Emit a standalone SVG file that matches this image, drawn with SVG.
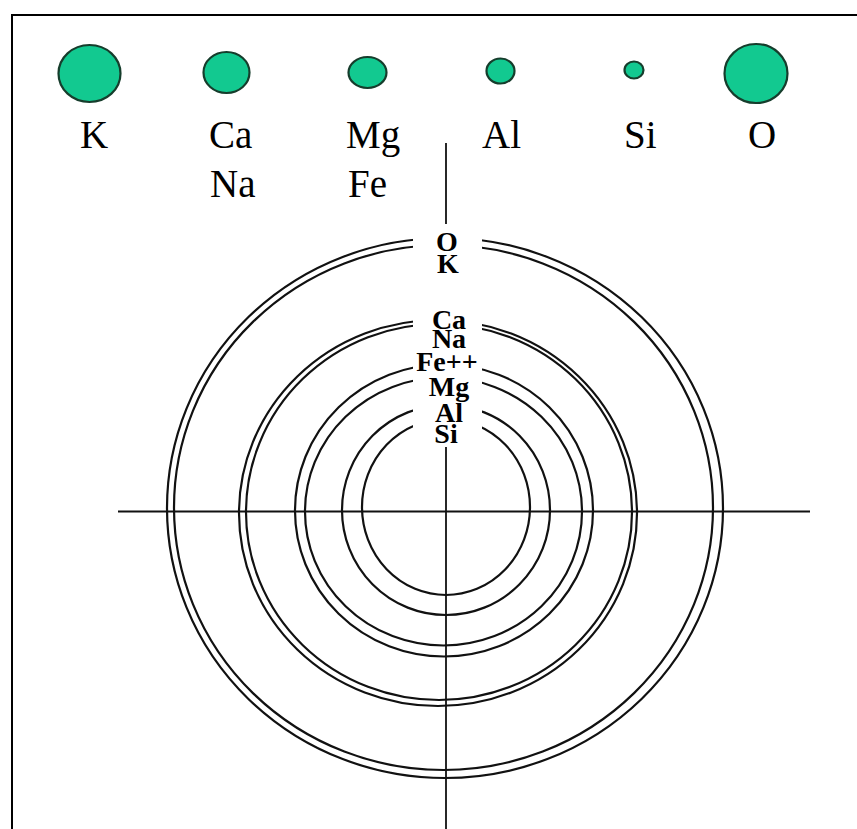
<svg xmlns="http://www.w3.org/2000/svg" width="857" height="829" viewBox="0 0 857 829">
<style>
.atom{fill:#12c990;stroke:#163d2c;stroke-width:2.2}
.lbl{font-family:"Liberation Serif","Times New Roman",serif;font-size:39px;fill:#000}
.ring{fill:none;stroke:#111;stroke-width:2.2}
.axis{stroke:#111;stroke-width:1.8;fill:none}
.rl{font-family:"Liberation Serif","Times New Roman",serif;font-size:28px;font-weight:bold;fill:#000;text-anchor:middle}
</style>
<rect width="857" height="829" fill="#fff"/>
<path id="frame" d="M12,829 V15 H857" fill="none" stroke="#000" stroke-width="2"/>
<g id="atom-K"><ellipse class="atom" cx="89.5" cy="73.5" rx="31" ry="28.5"/><text class="lbl" x="80" y="148">K</text></g>
<g id="atom-CaNa"><ellipse class="atom" cx="226.5" cy="72.5" rx="23" ry="20.5"/><text class="lbl" x="209" y="148">Ca</text><text class="lbl" x="210" y="197">Na</text></g>
<g id="atom-MgFe"><ellipse class="atom" cx="367.5" cy="72.5" rx="19" ry="15.5"/><text class="lbl" x="346" y="148">Mg</text><text class="lbl" x="348" y="197">Fe</text></g>
<g id="atom-Al"><ellipse class="atom" cx="500.5" cy="71" rx="14" ry="12.5"/><text class="lbl" x="482" y="148">Al</text></g>
<g id="atom-Si"><ellipse class="atom" cx="634" cy="70" rx="9.5" ry="8.5"/><text class="lbl" x="624" y="148">Si</text></g>
<g id="atom-O"><ellipse class="atom" cx="756" cy="73.5" rx="31.5" ry="29.5"/><text class="lbl" x="748" y="148">O</text></g>
<g id="connectors">
<line class="axis" x1="118" y1="511.5" x2="810" y2="511.5"/>
<line class="axis" x1="446" y1="143" x2="446" y2="829"/>
</g>
<g id="rings">
<ellipse id="ring-O" class="ring" cx="445" cy="508" rx="278" ry="270"/>
<ellipse id="ring-K" class="ring" cx="443.5" cy="507.5" rx="269.5" ry="262.5"/>
<ellipse id="ring-Ca" class="ring" cx="438" cy="513" rx="199" ry="193"/>
<ellipse id="ring-Na" class="ring" cx="439" cy="512" rx="193" ry="188"/>
<ellipse id="ring-Fe" class="ring" cx="444" cy="510.5" rx="149" ry="146"/>
<ellipse id="ring-Mg" class="ring" cx="443.5" cy="511.5" rx="138.5" ry="134"/>
<ellipse id="ring-Al" class="ring" cx="446" cy="510" rx="104" ry="105"/>
<ellipse id="ring-Si" class="ring" cx="446" cy="507" rx="84" ry="88"/>
</g>
<g id="ring-labels">
<rect x="413" y="224" width="69" height="223" fill="#fff"/>
<text class="rl" x="447" y="251">O</text>
<text class="rl" x="448" y="273">K</text>
<text class="rl" x="449" y="329">Ca</text>
<text class="rl" x="449" y="348">Na</text>
<text class="rl" x="447" y="371">Fe++</text>
<text class="rl" x="449" y="396">Mg</text>
<text class="rl" x="449" y="422">Al</text>
<text class="rl" x="446" y="443">Si</text>
</g>
</svg>
